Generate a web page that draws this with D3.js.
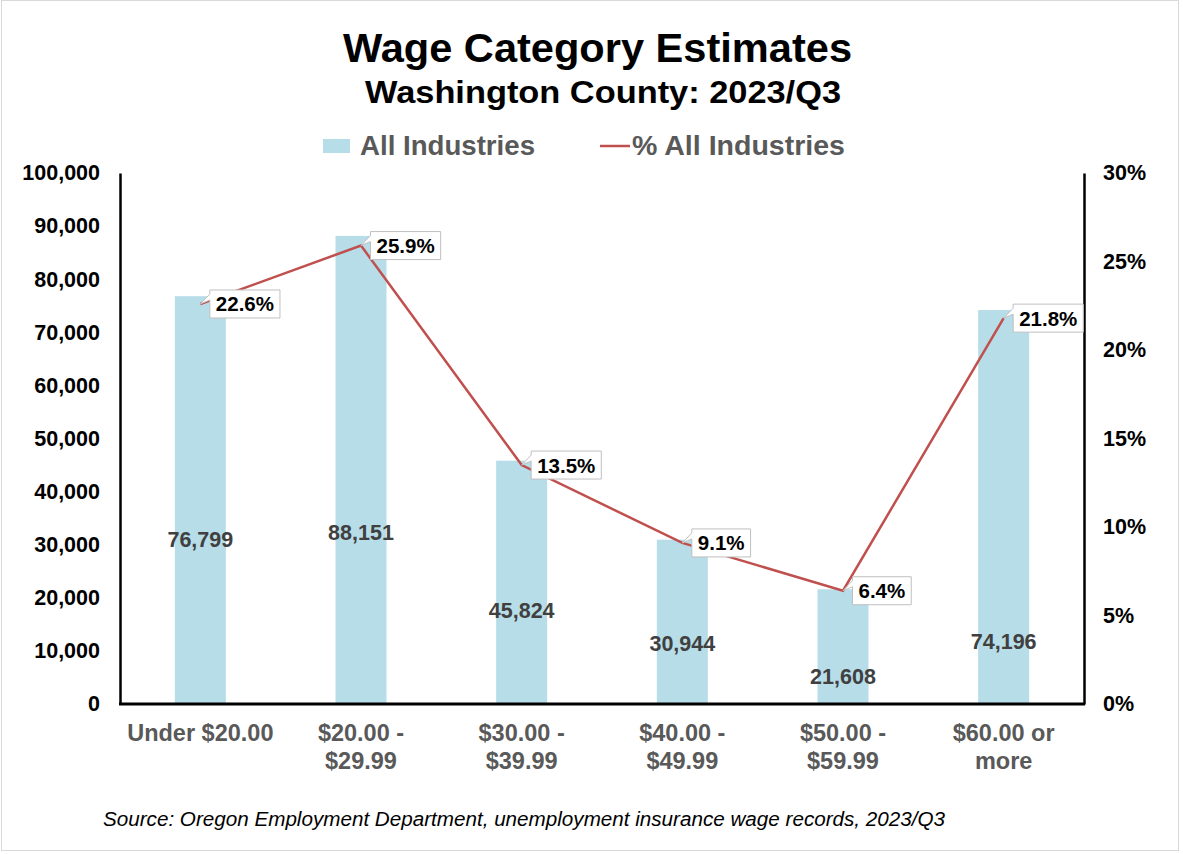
<!DOCTYPE html>
<html><head><meta charset="utf-8">
<script src="https://cdn.jsdelivr.net/npm/d3@7"></script>
<style>body{margin:0;background:#fff}svg{display:block;font-family:"Liberation Sans",Arial,sans-serif}</style>
</head><body><svg id="c" width="1183" height="854"></svg>
<script>
const categories = [["Under $20.00"],["$20.00 -","$29.99"],["$30.00 -","$39.99"],["$40.00 -","$49.99"],["$50.00 -","$59.99"],["$60.00 or","more"]];
const jobs = [76799, 88151, 45824, 30944, 21608, 74196];
const pct = [22.6, 25.9, 13.5, 9.1, 6.4, 21.8];
const jobLabelAt = [31000, 32400, 17700, 11500, 5300, 11900];
const leftTicks = [0,10000,20000,30000,40000,50000,60000,70000,80000,90000,100000];
const rightTicks = [0,5,10,15,20,25,30];

const svg = d3.select("#c");
svg.append("rect").attr("x",1.5).attr("y",0.5).attr("width",1177).attr("height",850).attr("fill","#fff").attr("stroke","#d9d9d9");

const L=120, R=1084, T=173, B=704;
const x = d3.scaleBand().domain(d3.range(6)).range([L,R]);
const y = d3.scaleLinear().domain([0,100000]).range([B,T]);
const y2 = d3.scaleLinear().domain([0,30]).range([B,T]);
const bw = 51;
const FF = "Liberation Sans, Arial, sans-serif";

svg.append("text").attr("x",597.5).attr("y",62).attr("text-anchor","middle").attr("font-size",41.5).attr("font-weight","bold")
  .attr("textLength",509).attr("lengthAdjust","spacingAndGlyphs").text("Wage Category Estimates");
svg.append("text").attr("x",603).attr("y",103).attr("text-anchor","middle").attr("font-size",32).attr("font-weight","bold")
  .attr("textLength",476).attr("lengthAdjust","spacingAndGlyphs").text("Washington County: 2023/Q3");

// legend
svg.append("rect").attr("x",323).attr("y",139).attr("width",27).attr("height",14).attr("fill","#b7dde8");
svg.append("text").attr("x",360).attr("y",155).attr("font-size",27).attr("font-weight","bold").attr("fill","#595959")
  .attr("textLength",175).attr("lengthAdjust","spacingAndGlyphs").text("All Industries");
svg.append("line").attr("x1",600).attr("x2",630).attr("y1",146).attr("y2",146).attr("stroke","#c0504d").attr("stroke-width",2.5);
svg.append("text").attr("x",632).attr("y",155).attr("font-size",27).attr("font-weight","bold").attr("fill","#595959")
  .attr("textLength",213).attr("lengthAdjust","spacingAndGlyphs").text("% All Industries");

// bars
svg.selectAll("rect.bar").data(jobs).join("rect").attr("class","bar")
  .attr("x",(d,i)=>x(i)+x.bandwidth()/2-bw/2).attr("width",bw)
  .attr("y",d=>y(d)).attr("height",d=>B-y(d)).attr("fill","#b7dde8");

svg.selectAll("text.vl").data(jobs).join("text").attr("class","vl")
  .attr("x",(d,i)=>x(i)+x.bandwidth()/2).attr("y",(d,i)=>y(jobLabelAt[i])+8)
  .attr("text-anchor","middle").attr("font-size",21.5).attr("font-weight","bold").attr("fill","#404040")
  .text(d=>d3.format(",")(d));

// axes
const gl = svg.append("g").attr("transform",`translate(${L},0)`)
  .call(d3.axisLeft(y).tickValues(leftTicks).tickSize(0).tickPadding(20).tickFormat(d3.format(",")));
gl.select(".domain").attr("stroke","#000").attr("stroke-width",2.5);
gl.selectAll("text").attr("font-size",21.5).attr("font-weight","bold").attr("fill","#000").attr("font-family",FF);

const gr = svg.append("g").attr("transform",`translate(${R},0)`)
  .call(d3.axisRight(y2).tickValues(rightTicks).tickSize(0).tickPadding(19).tickFormat(d=>d+"%"));
gr.select(".domain").attr("stroke","#000").attr("stroke-width",2.5);
gr.selectAll("text").attr("font-size",21.5).attr("font-weight","bold").attr("fill","#000").attr("font-family",FF);

svg.append("line").attr("x1",L-1).attr("x2",R+1).attr("y1",B).attr("y2",B).attr("stroke","#000").attr("stroke-width",3);

// x labels
categories.forEach((lines,i)=>{
  const cx = x(i)+x.bandwidth()/2;
  const t = svg.append("text").attr("x",cx).attr("y",741).attr("text-anchor","middle")
    .attr("font-size",23.5).attr("font-weight","bold").attr("fill","#595959");
  lines.forEach((s,j)=>t.append("tspan").attr("x",cx).attr("dy",j?28:0).text(s));
});

// line
const line = d3.line().x((d,i)=>x(i)+x.bandwidth()/2).y(d=>y2(d));
svg.append("path").datum(pct).attr("d",line).attr("fill","none").attr("stroke","#c0504d").attr("stroke-width",2.5);

// callouts
pct.forEach((p,i)=>{
  const px = x(i)+x.bandwidth()/2, py = y2(p);
  const g = svg.append("g");
  const txt = p.toFixed(1)+"%";
  const bx = px+9.5, by = py-14, h = 28;
  const t = g.append("text").attr("x",bx+6).attr("y",by+21.5).attr("font-size",20.5).attr("font-weight","bold").attr("fill","#000").text(txt);
  const w = t.node().getComputedTextLength()+12;
  const path = `M${bx},${by} L${bx+w},${by} L${bx+w},${by+h} L${bx},${by+h} L${bx},${by+10} L${px},${py} L${bx},${by+4} Z`;
  g.insert("path","text").attr("d",path).attr("fill","#fff").attr("stroke","#bfbfbf").attr("stroke-width",1);
});

svg.append("text").attr("x",103).attr("y",826).attr("font-size",20.5).attr("font-style","italic").attr("fill","#000")
  .attr("textLength",842).attr("lengthAdjust","spacingAndGlyphs")
  .text("Source: Oregon Employment Department, unemployment insurance wage records, 2023/Q3");
</script></body></html>
